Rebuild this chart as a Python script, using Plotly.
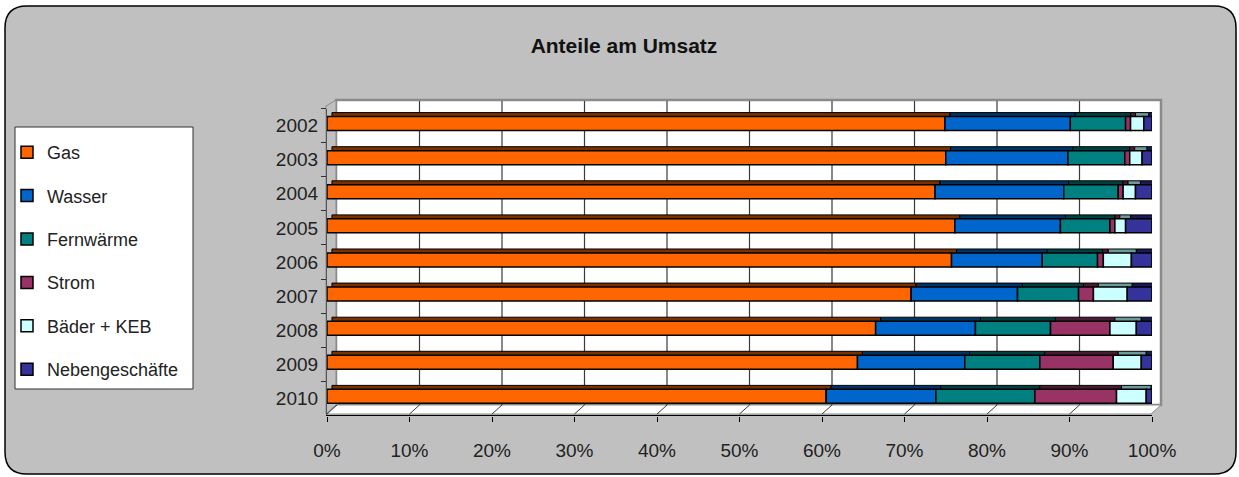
import plotly.graph_objects as go

# ---------------- data ----------------
years = ["2002", "2003", "2004", "2005", "2006", "2007", "2008", "2009", "2010"]
series_names = ["Gas", "Wasser", "Fernwärme", "Strom", "Bäder + KEB", "Nebengeschäfte"]
gas = [74.9, 75.0, 73.7, 76.1, 75.7, 70.8, 66.5, 64.3, 60.5]
wasser = [15.2, 14.8, 15.6, 12.8, 11.0, 12.9, 12.1, 13.0, 13.3]
fernwaerme = [6.7, 6.9, 6.6, 6.0, 6.7, 7.4, 9.1, 9.1, 12.0]
strom = [0.6, 0.6, 0.6, 0.6, 0.7, 1.8, 7.2, 8.9, 9.9]
baeder = [1.6, 1.5, 1.5, 1.3, 3.4, 4.1, 3.2, 3.4, 3.6]
neben = [1.0, 1.2, 2.0, 3.2, 2.5, 3.0, 1.9, 1.3, 0.7]
x_ticks = [0, 10, 20, 30, 40, 50, 60, 70, 80, 90, 100]
x_ticktext = [f"{t}%" for t in x_ticks]

# ---------------- styles ----------------
front_colors = ["#FF6600", "#0066CC", "#008080", "#993366", "#CCFFFF", "#333399"]
top_colors = ["#7A3000", "#003366", "#004040", "#4D1A33", "#6A9A9A", "#1A1A55"]
FONT = "Liberation Sans, Arial, sans-serif"
W, H = 1239, 477


def px(x):
    return x / W


def py(y):
    return 1 - y / H


values = [gas, wasser, fernwaerme, strom, baeder, neben]
bases = []
run = [0.0] * len(years)
for v in values:
    bases.append(list(run))
    run = [a + b for a, b in zip(run, v)]

DEPTH = 0.6  # horizontal depth shift in axis units

fig = go.Figure()
# depth (top/side faces)
for name, v, b, c in zip(series_names, values, bases, top_colors):
    fig.add_trace(go.Bar(
        y=years, x=v, base=[bb + DEPTH for bb in b], orientation="h",
        offset=-0.38, width=0.425,
        marker=dict(color=c, line=dict(color="#000000", width=1)),
        showlegend=False, hoverinfo="skip",
    ))
# front faces
for i, (name, v, b, c) in enumerate(zip(series_names, values, bases, front_colors)):
    fig.add_trace(go.Bar(
        y=years, x=v, base=b, orientation="h", name=name,
        offset=-0.264, width=0.41, legendgroup=f"g{i}",
        marker=dict(color=c, line=dict(color="#000000", width=1.5)),
    ))

shapes = []
# rounded chart border
x0, x1, y0, y1, r = 5, 1236, 6, 474, 22
rx, ry = r / W, r / H
path = (f"M {px(x0)+rx},{py(y0)} L {px(x1)-rx},{py(y0)} Q {px(x1)},{py(y0)} {px(x1)},{py(y0)-ry} "
        f"L {px(x1)},{py(y1)+ry} Q {px(x1)},{py(y1)} {px(x1)-rx},{py(y1)} "
        f"L {px(x0)+rx},{py(y1)} Q {px(x0)},{py(y1)} {px(x0)},{py(y1)+ry} "
        f"L {px(x0)},{py(y0)-ry} Q {px(x0)},{py(y0)} {px(x0)+rx},{py(y0)} Z")
shapes.append(dict(type="path", xref="paper", yref="paper", path=path,
                   fillcolor="#C0C0C0", line=dict(color="#000000", width=1.5), layer="below"))
# back wall
shapes.append(dict(type="rect", xref="paper", yref="paper", x0=px(336), x1=px(1161), y0=py(405), y1=py(100),
                   fillcolor="#FFFFFF", line=dict(color="#8A8A8A", width=2.5), layer="below"))
# side wall
shapes.append(dict(type="path", xref="paper", yref="paper",
                   path=f"M {px(326)},{py(106)} L {px(336)},{py(100)} L {px(336)},{py(405)} L {px(326)},{py(414)} Z",
                   fillcolor="#C0C0C0", line=dict(color="#8A8A8A", width=1), layer="below"))
# floor
shapes.append(dict(type="path", xref="paper", yref="paper",
                   path=f"M {px(326)},{py(414)} L {px(336)},{py(405)} L {px(1161)},{py(405)} L {px(1151)},{py(414)} Z",
                   fillcolor="#FFFFFF", line=dict(color="#8A8A8A", width=1), layer="below"))
# gridlines on the wall and the floor
for t in x_ticks:
    if 0 < t < 100:
        shapes.append(dict(type="line", xref="x", yref="paper", xsizemode="pixel", xanchor=t,
                           x0=10, x1=10, y0=py(405), y1=py(101),
                           line=dict(color="#3A3A3A", width=1.2), layer="below"))
    shapes.append(dict(type="line", xref="x", yref="paper", xsizemode="pixel", xanchor=t,
                       x0=0, x1=10, y0=py(414), y1=py(405),
                       line=dict(color="#3A3A3A", width=1), layer="below"))
# legend box
shapes.append(dict(type="rect", xref="paper", yref="paper", x0=px(15), x1=px(193), y0=py(389), y1=py(127),
                   fillcolor="#FFFFFF", line=dict(color="#333333", width=1), layer="below"))

fig.update_layout(
    width=W, height=H,
    margin=dict(l=0, r=0, t=0, b=0, pad=0, autoexpand=False),
    paper_bgcolor="#FFFFFF",
    plot_bgcolor="rgba(0,0,0,0)",
    barmode="overlay",
    font=dict(family=FONT, size=19, color="#222222"),
    title=dict(text="<b>Anteile am Umsatz</b>", x=624 / W, xanchor="center", y=py(46), yanchor="middle",
               font=dict(family=FONT, size=21, color="#111111")),
    xaxis=dict(domain=[px(327), px(1152)], range=[0, 100], tickmode="array", tickvals=x_ticks,
               ticktext=x_ticktext,
               showgrid=False, zeroline=False, showline=True, linecolor="#000000", linewidth=1.2,
               ticks="outside", ticklen=5, tickcolor="#000000", ticklabelstandoff=13,
               tickfont=dict(size=19, color="#222222")),
    yaxis=dict(domain=[py(415.4), py(108.5)], type="category", categoryorder="array", categoryarray=years,
               range=[8.5, -0.5], tickson="boundaries", ticks="outside", ticklen=5, tickcolor="#333333",
               showgrid=False, zeroline=False, showline=True, linecolor="#555555", linewidth=1.2,
               ticklabelstandoff=4, tickfont=dict(size=19, color="#222222")),
    legend=dict(x=px(7), xanchor="left", y=py(134), yanchor="top", bgcolor="rgba(0,0,0,0)",
                borderwidth=0, traceorder="grouped", tracegroupgap=17,
                font=dict(family=FONT, size=18, color="#222222")),
    shapes=shapes,
)

fig.write_html("out.html", config={"displayModeBar": False},
               post_script="document.body.style.margin='0px';")
